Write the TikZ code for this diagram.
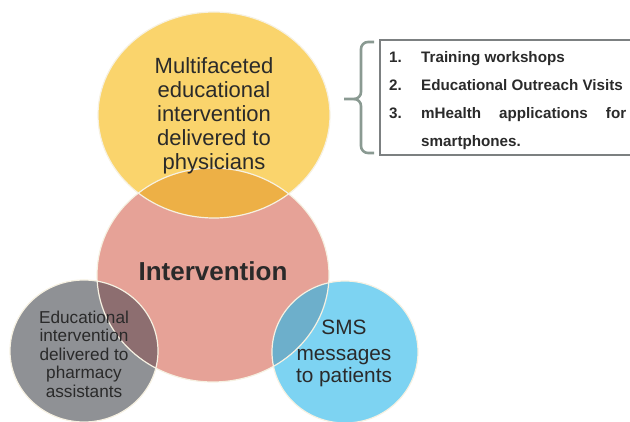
\documentclass[tikz,border=0pt]{standalone}
\usepackage{fontspec}
\setmainfont{Liberation Sans}
\definecolor{cyel}{HTML}{FAD46C}
\definecolor{cred}{HTML}{E6A297}
\definecolor{cgray}{HTML}{8F9195}
\definecolor{cblue}{HTML}{7DD3F2}
\definecolor{cyr}{HTML}{EDB046}
\definecolor{cgr}{HTML}{8D6E70}
\definecolor{cbr}{HTML}{6DAFCB}
\definecolor{crim}{HTML}{F6F1E2}
\definecolor{ctext}{HTML}{2A2A2A}
\definecolor{cbrace}{HTML}{8A9A92}
\definecolor{cbox}{HTML}{7C8081}
\begin{document}
\begin{tikzpicture}[x=1pt,y=-1pt,
  rim/.style={draw=crim,line width=1.2pt},
  ctext/.style={text=ctext,align=center,inner sep=0pt},
  item/.style={text=ctext,anchor=base west,inner sep=0pt,font=\fontsize{15.2}{18}\selectfont\bfseries}]
\useasboundingbox (0,0) rectangle (630,422);
\clip (0,0) rectangle (630,422);
\def\pRed{(213,275) ellipse [x radius=116,y radius=107]}
\def\pYel{(214,115) ellipse [x radius=116,y radius=103]}
\def\pGray{(84,351) ellipse [x radius=74,y radius=71]}
\def\pBlue{(345,352) ellipse [x radius=73,y radius=71]}
% fills
\fill[cred] \pRed;
\fill[cyel] \pYel;
\fill[cgray] \pGray;
\fill[cblue] \pBlue;
\begin{scope}\clip \pRed; \fill[cyr] \pYel; \end{scope}
\begin{scope}\clip \pRed; \fill[cgr] \pGray; \end{scope}
\begin{scope}\clip \pRed; \fill[cbr] \pBlue; \end{scope}
% rims
\path[rim] \pRed;
\path[rim] \pYel;
\path[rim] \pGray;
\path[rim] \pBlue;
% texts
\node[ctext,font=\fontsize{22}{24}\selectfont] (phys) at (214,116)
  {Multifaceted\\educational\\intervention\\delivered to\\physicians};
\node[ctext,font=\fontsize{26}{28}\selectfont\bfseries] (interv) at (213,271) {Intervention};
\node[ctext,font=\fontsize{17.2}{18.5}\selectfont] (pharm) at (84,354)
  {Educational\\intervention\\delivered to\\pharmacy\\assistants};
\node[ctext,font=\fontsize{20.8}{22}\selectfont] (sms) at (344,327) {SMS};
\node[ctext,font=\fontsize{20.8}{22}\selectfont] (msg) at (344,368) {messages\\to patients};
% list box
\draw[cbox,line width=1.5pt] (380,40) rectangle (640,155);
\draw[cbrace,line width=2.6pt] (374,42) -- (368,42) to[out=180,in=90] (361,49) -- (361,92)
  to[out=-90,in=0] (354,99) -- (344,99);
\draw[cbrace,line width=2.6pt] (354,99) to[out=0,in=90] (361,106) -- (361,146)
  to[out=-90,in=180] (368,153) -- (374,153);
\node[item] (n1) at (389,62.5) {1.};
\node[item] (t1) at (421,62.5) {Training workshops};
\node[item] (n2) at (389,90.5) {2.};
\node[item] (t2) at (421,90.5) {Educational Outreach Visits};
\node[item] (n3) at (389,118.5) {3.};
\node[item] (t3) at (421,118.5) {\makebox[205pt][s]{mHealth applications for}};
\node[item] (t4) at (421,146.5) {smartphones.};
\end{tikzpicture}
\end{document}
